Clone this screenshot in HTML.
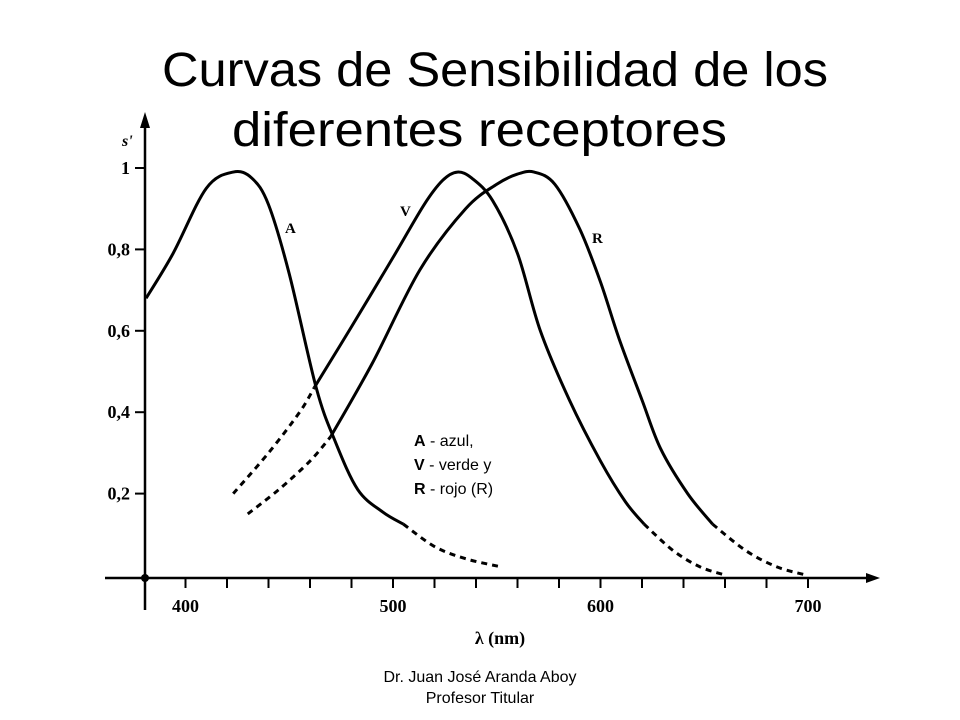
<!DOCTYPE html>
<html><head><meta charset="utf-8"><style>
body{margin:0;background:#fff}
svg{display:block}
.t{font-family:"Liberation Sans",Arial,sans-serif}
.s{font-family:"Liberation Serif",serif;font-weight:bold}
</style></head><body>
<svg id="c" width="960" height="720" viewBox="0 0 960 720">
<text class="t" x="162" y="86" font-size="48" textLength="666" lengthAdjust="spacingAndGlyphs">Curvas de Sensibilidad de los</text>
<text class="t" x="232" y="146" font-size="48" textLength="495" lengthAdjust="spacingAndGlyphs">diferentes receptores</text>
<g id="axes"></g>
<g id="curves"></g>
<text class="s" x="122" y="146" font-size="16" font-style="italic">s'</text>
<text class="s" x="500" y="644" font-size="18" text-anchor="middle">λ (nm)</text>
<text class="s" x="285" y="233" font-size="15">A</text>
<text class="s" x="400" y="216" font-size="15">V</text>
<text class="s" x="592" y="243" font-size="15">R</text>
<g class="t" font-size="16">
<text x="414" y="446"><tspan font-weight="bold">A</tspan> - azul,</text>
<text x="414" y="470"><tspan font-weight="bold">V</tspan> - verde y</text>
<text x="414" y="494"><tspan font-weight="bold">R</tspan> - rojo (R)</text>
</g>
<text class="t" x="480" y="682" font-size="16" text-anchor="middle">Dr. Juan José Aranda Aboy</text>
<text class="t" x="480" y="703" font-size="16" text-anchor="middle">Profesor Titular</text>
</svg>
<script>
const yTicks=[0.2,0.4,0.6,0.8,1];
const yTickLabels=["0,2","0,4","0,6","0,8","1"];
const xTickLabels=[400,500,600,700];
const xMinorTicks=[400,420,440,460,480,500,520,540,560,580,600,620,640,660,680,700];
const aLam=[381,394,410,423,432,440,450,463,472,483,495,505];
const aVal=[0.68,0.79,0.95,0.99,0.975,0.91,0.74,0.46,0.33,0.21,0.155,0.125];
const aDashLam=[505,520,535,552];
const aDashVal=[0.125,0.07,0.04,0.02];
const vDashLam=[423,440,455,462];
const vDashVal=[0.2,0.3,0.4,0.46];
const vLam=[462,480,500,515,524,531,538,548,560,571,585,600,612,621];
const vVal=[0.46,0.61,0.78,0.91,0.97,0.99,0.975,0.92,0.79,0.6,0.43,0.28,0.18,0.125];
const vDashLam2=[621,635,648,660];
const vDashVal2=[0.125,0.06,0.02,0.0];
const rDashLam=[430,445,460,470];
const rDashVal=[0.15,0.21,0.28,0.34];
const rLam=[470,490,513,535,550,560,568,578,590,600,609,620,629,642,654];
const rVal=[0.34,0.52,0.75,0.9,0.96,0.985,0.99,0.96,0.85,0.72,0.58,0.43,0.31,0.2,0.125];
const rDashLam2=[654,670,685,699];
const rDashVal2=[0.125,0.06,0.02,0.0];

const x=l=>185.5+(l-400)*2.075;
const y=v=>575-v*407;
const NS="http://www.w3.org/2000/svg";
function mk(tag,attrs,parent){const e=document.createElementNS(NS,tag);for(const k in attrs)e.setAttribute(k,attrs[k]);parent.appendChild(e);return e;}
function path(L,V){const p=L.map((l,i)=>[x(l),y(V[i])]);let d="M"+p[0][0]+","+p[0][1];
for(let i=0;i<p.length-1;i++){const p0=p[i-1]||p[i],p1=p[i],p2=p[i+1],p3=p[i+2]||p2;
d+=" C"+(p1[0]+(p2[0]-p0[0])/6)+","+(p1[1]+(p2[1]-p0[1])/6)+" "+(p2[0]-(p3[0]-p1[0])/6)+","+(p2[1]-(p3[1]-p1[1])/6)+" "+p2[0]+","+p2[1];}return d;}
const ax=document.getElementById("axes");
let e=mk("line",{x1:145,y1:610,x2:145,y2:122,stroke:"#000","stroke-width":2.5},ax);


e=mk("polygon",{points:"145,112 140,128 150,128",fill:"#000"},ax);


e=mk("line",{x1:105,y1:578,x2:870,y2:578,stroke:"#000","stroke-width":2.5},ax);


e=mk("polygon",{points:"880,578 866,573 866,583",fill:"#000"},ax);


e=mk("circle",{cx:145,cy:578,r:4,fill:"#000"},ax);


yTicks.forEach((v,i)=>{
 const t=mk("line",{x1:135,x2:145,y1:y(v),y2:y(v),stroke:"#000","stroke-width":2},ax);
 
 
 const tx=mk("text",{x:130,y:y(v)+6,"text-anchor":"end","font-size":18,"class":"s"},ax);
 tx.textContent=yTickLabels[i];
 
 
});
xMinorTicks.forEach(l=>{
 const t=mk("line",{x1:x(l),x2:x(l),y1:578,y2:588,stroke:"#000","stroke-width":2},ax);
 
 
});
xTickLabels.forEach(l=>{
 const tx=mk("text",{x:x(l),y:612,"text-anchor":"middle","font-size":18,"class":"s"},ax);
 tx.textContent=l;
 
 
});
const cg=document.getElementById("curves");
[["curve-a",aLam,aVal,0],["curve-a-dashed",aDashLam,aDashVal,1],["curve-v-dashed-left",vDashLam,vDashVal,1],["curve-v",vLam,vVal,0],["curve-v-dashed-right",vDashLam2,vDashVal2,1],["curve-r-dashed-left",rDashLam,rDashVal,1],["curve-r",rLam,rVal,0],["curve-r-dashed-right",rDashLam2,rDashVal2,1]].forEach(c=>{
 const p=mk("path",{d:path(c[1],c[2]),fill:"none",stroke:"#000","stroke-width":3,"stroke-linejoin":"round"},cg);
 if(c[3])p.setAttribute("stroke-dasharray","6,5");
 
 
});
</script>
</body></html>
